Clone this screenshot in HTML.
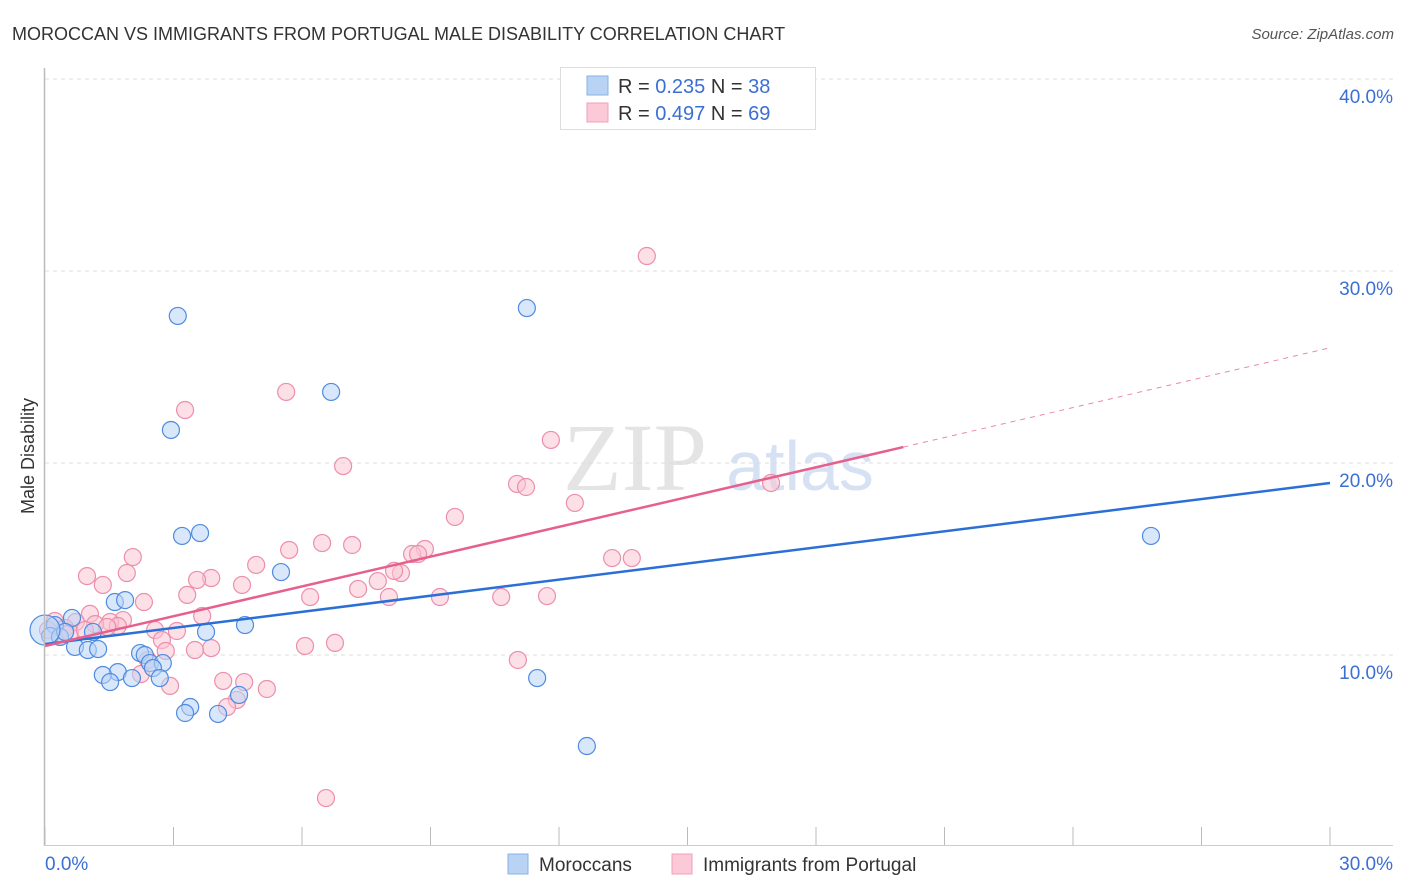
<!DOCTYPE html>
<html><head><meta charset="utf-8"><style>
body{margin:0;background:#fff;font-family:"Liberation Sans",sans-serif}
#c{position:relative;width:1406px;height:892px;overflow:hidden}
</style></head><body>
<div id="c">
<svg id="s" width="1406" height="892" xmlns="http://www.w3.org/2000/svg">
<text x="12" y="40" font-size="18" fill="#333">MOROCCAN VS IMMIGRANTS FROM PORTUGAL MALE DISABILITY CORRELATION CHART</text>
<text x="1394" y="39" font-size="15" fill="#555" text-anchor="end" font-style="italic">Source: ZipAtlas.com</text>
<text x="635" y="490" font-size="96" fill="#e4e4e4" text-anchor="middle" font-family="Liberation Serif,serif">ZIP</text>
<text x="800" y="490" font-size="70" fill="#d6e2f4" text-anchor="middle">atlas</text>
<text x="34" y="456" font-size="18" fill="#333" text-anchor="middle" transform="rotate(-90 34 456)">Male Disability</text>
<g id="grid"></g><g id="pts"></g><g id="lines"></g>
<line x1="44.5" y1="68" x2="44.5" y2="846" stroke="#bbb" stroke-width="1.5"/>
<line x1="44" y1="845.5" x2="1393" y2="845.5" stroke="#ccc"/>
<text x="45" y="870" font-size="19" fill="#3b6fd4">0.0%</text>
<text x="1393" y="870" font-size="19" fill="#3b6fd4" text-anchor="end">30.0%</text>
<g>
<rect x="560.5" y="67.5" width="255" height="62" fill="#fff" stroke="#ddd"/>
<rect x="587" y="76" width="21" height="19" fill="#b9d3f5" stroke="#8ab0e6"/>
<rect x="587" y="103" width="21" height="19" fill="#fcc9d8" stroke="#f0a0b8"/>
<text x="618" y="93" font-size="20" fill="#333">R = <tspan fill="#3b6fd4">0.235</tspan>   N = <tspan fill="#3b6fd4">38</tspan></text>
<text x="618" y="120" font-size="20" fill="#333">R = <tspan fill="#3b6fd4">0.497</tspan>   N = <tspan fill="#3b6fd4">69</tspan></text>
</g>
<g>
<rect x="508" y="854" width="20" height="20" fill="#b9d3f5" stroke="#8ab0e6"/>
<text x="539" y="871" font-size="19" fill="#333">Moroccans</text>
<rect x="672" y="854" width="20" height="20" fill="#fcc9d8" stroke="#f0a0b8"/>
<text x="703" y="871" font-size="19" fill="#333">Immigrants from Portugal</text>
</g>
</svg></div>
<script>
const yTicks=[10,20,30,40];
const yTickLabels=["10.0%","20.0%","30.0%","40.0%"];
const xTicks=[0,3,6,9,12,15,18,21,24,27,30];
const blueX=[3.10,11.25,6.68,2.94,3.20,3.62,5.51,25.82,1.63,1.87,4.67,3.76,1.12,0.63,0.23,0.12,0.35,0.70,1.00,1.24,2.22,2.33,2.45,2.75,2.52,1.70,1.35,1.52,2.03,2.68,11.49,4.53,3.39,3.27,4.04,12.65,0.47,0.0];
const blueY=[27.66,28.07,23.70,21.72,16.20,16.35,14.32,16.20,12.76,12.86,11.56,11.20,11.20,11.93,11.56,10.99,10.94,10.42,10.26,10.31,10.10,10.00,9.58,9.58,9.32,9.11,8.96,8.59,8.80,8.80,8.80,7.92,7.29,6.98,6.93,5.26,11.20,11.3];
const pinkX=[14.05,5.63,3.27,11.81,6.96,11.02,11.23,16.95,12.37,9.57,6.47,7.17,5.70,2.05,8.87,8.57,8.71,13.24,13.70,4.93,1.91,0.98,1.35,3.88,3.55,8.31,8.15,7.77,4.60,7.31,3.32,6.19,8.03,9.22,10.65,11.72,2.31,1.05,3.67,1.82,1.52,0.72,1.17,1.70,0.23,0.47,2.57,3.08,1.45,2.73,6.77,6.07,3.88,3.50,2.82,2.40,11.04,4.16,4.65,2.24,2.92,5.18,4.48,4.25,6.56,0.35,0.58,0.07,0.93];
const pinkY=[30.78,23.70,22.76,21.20,19.84,18.91,18.75,18.96,17.92,17.19,15.83,15.73,15.47,15.10,15.52,15.26,15.26,15.05,15.05,14.69,14.27,14.11,13.65,14.01,13.91,14.27,14.38,13.85,13.65,13.44,13.13,13.02,13.02,13.02,13.02,13.07,12.76,12.14,12.03,11.82,11.72,11.72,11.61,11.51,11.77,11.41,11.30,11.25,11.46,10.78,10.63,10.47,10.36,10.26,10.21,9.74,9.74,8.65,8.59,9.01,8.39,8.23,7.66,7.29,2.55,10.94,11.15,11.30,11.30];
const blueTrend=[[0,10.57],[30,18.96]];
const pinkTrend=[[0,10.47],[20.04,20.83]];
const pinkTrendDash=[[20.04,20.83],[30,26.0]];
const X=v=>45+v*(1285/30), Y=v=>847-v*19.2;
const NS="http://www.w3.org/2000/svg";
function mk(t,a,p){const e=document.createElementNS(NS,t);for(const k in a)e.setAttribute(k,a[k]);p.appendChild(e);return e;}
const g=document.getElementById('grid');
yTicks.forEach((t,i)=>{const l=mk('line',{x1:45,x2:1393,y1:Y(t),y2:Y(t),stroke:'#ddd','stroke-dasharray':'4 4'},g);


const tx=mk('text',{x:1393,y:Y(t)+24,'font-size':19,fill:'#3b6fd4','text-anchor':'end'},g);tx.textContent=yTickLabels[i];

});
xTicks.forEach(t=>{const l=mk('line',{x1:X(t),x2:X(t),y1:827,y2:845,stroke:'#bbb'},g);

});
const p=document.getElementById('pts');
function pts(xs,ys,f,s,n){xs.forEach((x,i)=>{const r=(x===0&&n==='blue')?15:8.5;const c=mk('circle',{cx:X(x),cy:Y(ys[i]),r:r,fill:f,'fill-opacity':0.55,stroke:s,'stroke-width':1.2},p);

});}
pts(pinkX,pinkY,'#f9c4d3','#ec8fab','pink');
pts(blueX,blueY,'#b9d3f5','#4f8be0','blue');
const L=document.getElementById('lines');
function ln(a,c,w,d,n){const l=mk('line',{x1:X(a[0][0]),y1:Y(a[0][1]),x2:X(a[1][0]),y2:Y(a[1][1]),stroke:c,'stroke-width':w},L);if(d)l.setAttribute('stroke-dasharray',d);

}
ln(blueTrend,'#2a6fd6',2.5,null,'blue-trendline');
ln(pinkTrend,'#e6608e',2.5,null,'pink-trendline');
ln(pinkTrendDash,'#e88aa8',1,'5 5','pink-trendline-extension');
</script>
</body></html>
